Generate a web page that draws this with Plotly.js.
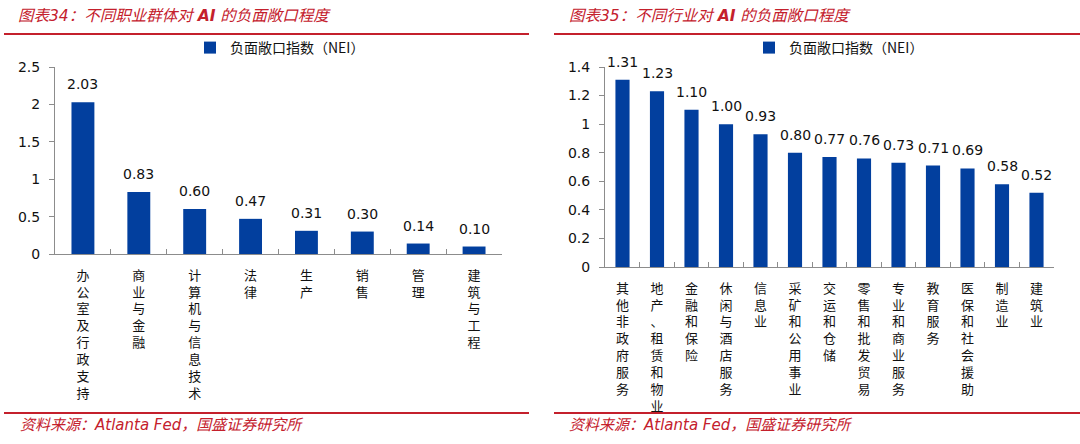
<!DOCTYPE html>
<html>
<head>
<meta charset="utf-8">
<script src="https://cdn.plot.ly/plotly-3.0.1.min.js"></script>
<style>
  html, body { margin: 0; padding: 0; background: #fff; }
  #chart { width: 1080px; height: 444px; }
</style>
</head>
<body>
<div id="chart"></div>
<script>
// Data: 图表34 occupations
const occupations = ['办公室及行政支持', '商业与金融', '计算机与信息技术', '法律', '生产', '销售', '管理', '建筑与工程'];
const occupationNEI = [2.03, 0.83, 0.60, 0.47, 0.31, 0.30, 0.14, 0.10];

// Data: 图表35 industries
const industries = ['其他非政府服务', '地产、租赁和物业', '金融和保险', '休闲与酒店服务', '信息业', '采矿和公用事业', '交运和仓储',
  '零售和批发贸易', '专业和商业服务', '教育服务', '医保和社会援助', '制造业', '建筑业'];
const industryNEI = [1.31, 1.23, 1.10, 1.00, 0.93, 0.80, 0.77, 0.76, 0.73, 0.71, 0.69, 0.58, 0.52];

const seriesName = '负面敞口指数（NEI）';
const leftTitle = '图表34：不同职业群体对 <b>AI</b> 的负面敞口程度';
const rightTitle = '图表35：不同行业对 <b>AI</b> 的负面敞口程度';
const sourceText = '资料来源：Atlanta Fed，国盛证券研究所';

const W = 1080, H = 444;
const px = x => x / W;
const py = y => 1 - y / H;

const barBlue = '#023f9e';
const red = '#c4202c';
const numFont = { family: 'DejaVu Sans, Verdana, sans-serif', size: 14, color: '#111' };
const cjkFont = { family: 'Noto Sans CJK SC, sans-serif', size: 13, color: '#111' };

// vertical category labels, one character per line
const stack = s => s.split('').join('<br>');

const traces = [
  {
    x: occupations, y: occupationNEI, type: 'bar', name: seriesName,
    xaxis: 'x', yaxis: 'y', legend: 'legend',
    marker: { color: barBlue }, width: 0.41, hoverinfo: 'x+y'
  },
  {
    x: industries, y: industryNEI, type: 'bar', name: seriesName,
    xaxis: 'x2', yaxis: 'y2', legend: 'legend2',
    marker: { color: barBlue }, width: 0.41, hoverinfo: 'x+y'
  }
];

// value labels above bars
const labels = [];
occupations.forEach((c, i) => labels.push({
  x: c, y: occupationNEI[i], xref: 'x', yref: 'y', text: occupationNEI[i].toFixed(2),
  showarrow: false, yshift: 18, font: numFont
}));
industries.forEach((c, i) => labels.push({
  x: c, y: industryNEI[i], xref: 'x2', yref: 'y2', text: industryNEI[i].toFixed(2),
  showarrow: false, yshift: 18, font: numFont
}));

// headers and sources
const textNotes = [
  { text: leftTitle, x: px(16), y: py(16) },
  { text: rightTitle, x: px(567), y: py(16) },
  { text: sourceText, x: px(18), y: py(425) },
  { text: sourceText, x: px(567), y: py(425) }
].map(a => Object.assign(a, {
  xref: 'paper', yref: 'paper', xanchor: 'left', yanchor: 'middle', showarrow: false,
  font: { family: 'DejaVu Sans, Noto Sans CJK SC, sans-serif', size: a.y > 0.5 ? 15.5 : 15, color: red, style: 'italic' }
}));

const redLine = (x0, x1, y) => ({
  type: 'line', xref: 'paper', yref: 'paper', x0: px(x0), x1: px(x1), y0: py(y), y1: py(y),
  line: { color: red, width: 2 }
});

const xCommon = {
  showline: true, linecolor: '#8c8c8c', linewidth: 1,
  ticks: 'inside', tickson: 'boundaries', ticklen: 5, tickcolor: '#8c8c8c',
  tickfont: cjkFont, tickangle: 0, ticklabelstandoff: 9,
  showgrid: false, zeroline: false, fixedrange: true
};
const yCommon = {
  showline: true, linecolor: '#8c8c8c', linewidth: 1,
  ticks: 'outside', ticklen: 5, tickcolor: '#8c8c8c', tickfont: numFont,
  ticklabelstandoff: 6, showgrid: false, zeroline: false, fixedrange: true
};

const legendCommon = {
  orientation: 'h', xanchor: 'left', yanchor: 'middle', xref: 'paper', yref: 'paper',
  font: { family: 'Noto Sans CJK SC, DejaVu Sans, sans-serif', size: 14, color: '#111' },
  itemwidth: 30, bgcolor: 'rgba(0,0,0,0)'
};

const layout = {
  width: W, height: H,
  margin: { l: 0, r: 0, t: 0, b: 0 },
  paper_bgcolor: '#fff', plot_bgcolor: '#fff',
  showlegend: true,
  xaxis: Object.assign({}, xCommon, {
    domain: [px(55), px(502)], anchor: 'y',
    tickvals: occupations, ticktext: occupations.map(stack)
  }),
  yaxis: Object.assign({}, yCommon, {
    domain: [py(254), py(67)], anchor: 'x', range: [0, 2.5], dtick: 0.5
  }),
  xaxis2: Object.assign({}, xCommon, {
    domain: [px(605), px(1054)], anchor: 'y2',
    tickvals: industries, ticktext: industries.map(stack)
  }),
  yaxis2: Object.assign({}, yCommon, {
    domain: [py(267), py(67)], anchor: 'x2', range: [0, 1.4], dtick: 0.2
  }),
  legend: Object.assign({}, legendCommon, { x: px(190), y: py(48) }),
  legend2: Object.assign({}, legendCommon, { x: px(749), y: py(48) }),
  annotations: labels.concat(textNotes),
  shapes: [
    redLine(4, 529, 34), redLine(554, 1080, 34),
    redLine(4, 529, 413), redLine(554, 1080, 413)
  ]
};

Plotly.newPlot('chart', traces, layout, { displayModeBar: false, staticPlot: true });
</script>
</body>
</html>
